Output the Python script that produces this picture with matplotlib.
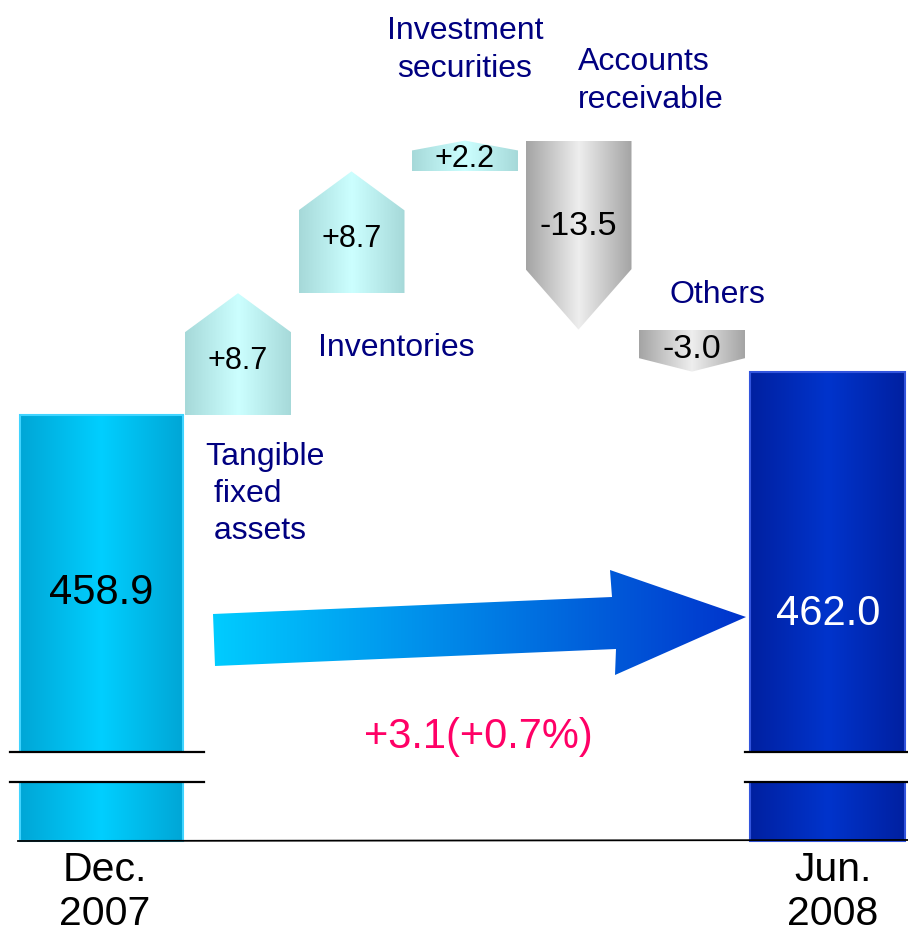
import numpy as np
import matplotlib
matplotlib.use('Agg')
import matplotlib.pyplot as plt
import matplotlib.transforms as mtransforms
from matplotlib.patches import Polygon, Rectangle
from matplotlib.colors import to_rgb

plt.rcParams['font.family'] = ['Liberation Sans', 'DejaVu Sans']

# data
start_label = 'Dec.\n2007'
end_label = 'Jun.\n2008'
start_value = 458.9
end_value = 462.0
items = ['Tangible\n fixed\n assets', 'Inventories', 'Investment\nsecurities',
         'Accounts\nreceivable', 'Others']
changes = [8.7, 8.7, 2.2, -13.5, -3.0]
change_labels = ['+8.7', '+8.7', '+2.2', '-13.5', '-3.0']
total_label = '+3.1(+0.7%)'

# layout
W, H = 908, 937
ppu_y = 14.0          # pixels per value unit
ppu_x = 113.5         # pixels per category step
y_top = start_value + 416 / ppu_y
y_bot = y_top - H / ppu_y
x_left = 1 - 238 / ppu_x
x_right = x_left + W / ppu_x

fig = plt.figure(figsize=(W / 100, H / 100), dpi=100)
ax = fig.add_axes([0, 0, 1, 1])
ax.axis('off')
ax.set_xlim(x_left, x_right)
ax.set_ylim(y_bot, y_top)
pix = mtransforms.Affine2D().scale(1 / W, -1 / H).translate(0, 1) + fig.transFigure


def px_y(py):
    return y_top - py / ppu_y


def px_x(px):
    return x_left + px / ppu_x


def grad_fill(verts, c_edge, c_mid, edgecolor='none', lw=0, linear=False, z=2):
    verts = np.asarray(verts, dtype=float)
    poly = Polygon(verts, closed=True, facecolor='none', edgecolor=edgecolor,
                   lw=lw, zorder=z + 0.5)
    ax.add_patch(poly)
    t = np.linspace(0, 1, 256)
    w = t if linear else 1 - np.abs(2 * t - 1)
    e, m = np.array(to_rgb(c_edge)), np.array(to_rgb(c_mid))
    img = e + (m - e) * w[:, None]
    x0, x1 = verts[:, 0].min(), verts[:, 0].max()
    y0, y1 = verts[:, 1].min(), verts[:, 1].max()
    im = ax.imshow(img[None, :, :], extent=(x0, x1, y0, y1), aspect='auto',
                   interpolation='bilinear', zorder=z)
    im.set_clip_path(poly)


base_v = px_y(842)
label_color = '#000080'

# start / end bars
x_start, w_start = px_x(101.5), 163 / ppu_x
x_end, w_end = px_x(827.5), 155 / ppu_x
for xc, wd, val, ce, cm, ec in [(x_start, w_start, start_value, '#00A6D6', '#00CFFF', '#40D4FF'),
                                (x_end, w_end, end_value, '#0020A0', '#0034CC', '#3355DD')]:
    grad_fill([(xc - wd / 2, base_v), (xc + wd / 2, base_v), (xc + wd / 2, val), (xc - wd / 2, val)],
              ce, cm, edgecolor=ec, lw=1.5)

ax.text(101, 593, f'{start_value:.1f}', transform=pix, ha='center', va='center',
        fontsize=30, color='black', zorder=5)
ax.text(828, 614, f'{end_value:.1f}', transform=pix, ha='center', va='center',
        fontsize=30, color='white', zorder=5)

# change arrows
aw = 106 / ppu_x
level = start_value
for i, (d, lab) in enumerate(zip(changes, change_labels)):
    xc = i + 1
    v0, v1 = level, level + d
    sh = v1 - 0.32 * d
    verts = [(xc - aw / 2, v0), (xc + aw / 2, v0), (xc + aw / 2, sh), (xc, v1), (xc - aw / 2, sh)]
    if d > 0:
        grad_fill(verts, '#A6D9D9', '#CCFFFF')
    else:
        grad_fill(verts, '#A4A4A4', '#EEEEEE')
    ax.text(xc, v0 + 0.45 * d, lab, ha='center', va='center',
            fontsize=22 if d > 0 else 24.5, color='black', zorder=5)
    level = v1

# item labels
lab_kw = dict(transform=pix, fontsize=23, color=label_color, va='center', linespacing=1.32)
ax.text(205, 494, items[0], ha='left', **lab_kw)
ax.text(318, 348, items[1], ha='left', **lab_kw)
ax.text(465, 50, items[2], ha='center', multialignment='center', **lab_kw)
ax.text(578, 81, items[3], ha='left', **lab_kw)
ax.text(717, 295, items[4], ha='center', **lab_kw)

# big trend arrow
arrow_px = [(213, 615), (612, 598), (610, 571), (746, 618), (615, 676), (616, 650), (215, 667)]
arrow_data = [(px_x(x), px_y(y)) for x, y in arrow_px]
grad_fill(arrow_data, '#00CCFF', '#0033CC', linear=True)
ax.text(478, 737, total_label, transform=pix, ha='center', va='center',
        fontsize=30, color='#FF0066', zorder=5)

# axis break marks and baseline
for x0, x1 in [(10, 204), (745, 908)]:
    ax.add_patch(Rectangle((x0, 754), x1 - x0, 28, transform=pix, facecolor='white',
                           edgecolor='none', zorder=6))
    for yy in (753, 783):
        ax.plot([x0, x1], [yy, yy], transform=pix, color='black', lw=1.6, zorder=7)
ax.plot([18, 908], [842, 841], transform=pix, color='black', lw=1.3, zorder=7)

# category labels
ax.text(105, 892, start_label, transform=pix, ha='center', va='center', fontsize=29.5,
        color='black', linespacing=1.17)
ax.text(833, 892, end_label, transform=pix, ha='center', va='center', fontsize=29.5,
        color='black', linespacing=1.17)

ax.set_xlim(x_left, x_right)
ax.set_ylim(y_bot, y_top)
fig.savefig('out.png', dpi=100)
